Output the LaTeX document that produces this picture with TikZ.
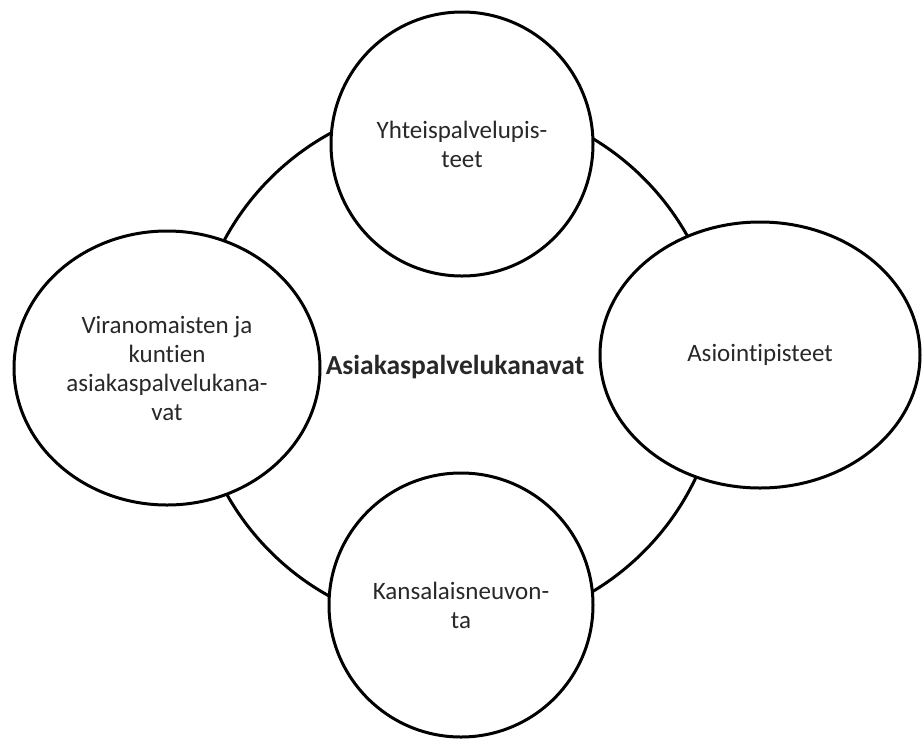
\documentclass[tikz,border=0pt]{standalone}
\usepackage{fontspec}
\setmainfont{Carlito}[Ligatures={NoCommon}]
\usetikzlibrary{shapes.geometric}
\definecolor{txt}{RGB}{40,40,40}
\tikzset{
  ring/.style={circle, draw=black, line width=3pt, minimum size=528pt, inner sep=0pt},
  bubble/.style={ellipse, draw=black, line width=3pt, fill=white, inner sep=0pt,
    align=center, font=\fontsize{25}{29}\selectfont, text=txt},
  titletext/.style={font=\fontsize{27.5}{32}\selectfont\bfseries, text=txt}
}
\begin{document}
\begin{tikzpicture}[x=1pt,y=-1pt]
\useasboundingbox (0,0) rectangle (922,740);
\node[ring] (ring) at (457,365) {};
\node[titletext] (title) at (455,367) {Asiakaspalvelukanavat};
\node[bubble, minimum width=262pt, minimum height=264pt] (top) at (462,144) {Yhteispalvelupis-\\teet};
\node[bubble, minimum width=306pt, minimum height=274pt] (left) at (167,368) {Viranomaisten ja\\kuntien\\asiakaspalvelukana-\\vat};
\node[bubble, minimum width=320pt, minimum height=266pt] (right) at (760,355) {Asiointipisteet};
\node[bubble, minimum width=264pt, minimum height=264pt] (bottom) at (461,605) {Kansalaisneuvon-\\ta};
\end{tikzpicture}
\end{document}
